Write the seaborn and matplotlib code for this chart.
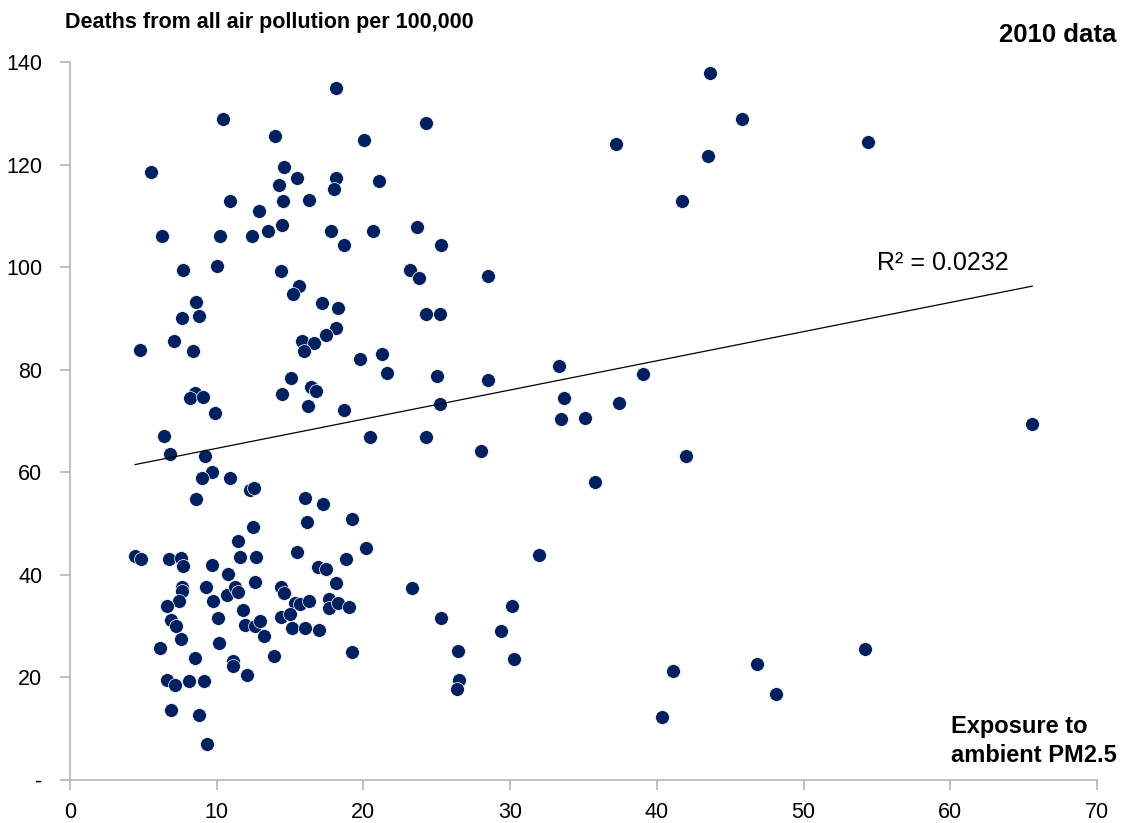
import matplotlib
matplotlib.use("Agg")
import matplotlib.pyplot as plt
import seaborn as sns
import pandas as pd

# Exposure to ambient PM2.5 (x) and deaths per 100,000 (y)
pm25 = [
    18.15, 10.43, 13.95, 24.24, 20.06, 5.52, 14.6, 15.46, 18.1, 18.0,
    21.06, 14.27, 10.93, 14.5, 16.3, 12.86, 6.25, 10.25, 12.43, 13.5,
    14.45, 17.8, 18.66, 20.67, 23.63, 25.27, 7.73, 10.0, 14.4, 23.15,
    23.8, 28.5, 15.6, 15.2, 17.2, 18.29, 8.57, 7.61, 8.77, 24.3,
    25.25, 18.1, 17.45, 15.8, 16.6, 15.93, 7.1, 4.8, 8.4, 19.8,
    21.3, 21.6, 25.0, 28.47, 15.04, 16.45, 16.75, 14.43, 16.25, 18.7,
    8.54, 8.2, 9.09, 9.88, 25.25, 20.47, 24.25, 28.0, 6.41, 6.84,
    9.22, 9.68, 9.0, 10.9, 12.3, 12.56, 8.57, 16.04, 17.25, 16.13,
    19.2, 12.5,
    43.64, 45.8, 37.2, 43.5, 54.4, 41.7, 33.35, 39.05, 33.7, 37.4,
    33.46, 35.1, 65.6, 41.96, 35.8,
    4.43, 4.84, 6.73, 7.6, 7.68, 9.68, 10.8, 11.45, 11.57, 12.66,
    15.5, 16.9, 17.47, 18.84, 18.1, 9.3, 7.61, 7.61, 7.45, 6.61,
    9.75, 10.72, 11.27, 11.47, 12.63, 11.8, 10.06, 6.9, 7.2, 7.55,
    6.11, 10.18, 11.93, 12.6, 12.93, 13.2, 8.52, 11.1, 11.1, 13.88,
    12.04, 6.59, 7.18, 8.1, 9.13, 6.9, 8.77, 9.34, 14.38, 14.56,
    15.34, 15.68, 16.27, 14.36, 15.0, 15.15, 16.04, 16.95, 17.68, 17.68,
    18.3, 19.0, 19.25, 20.2, 23.3, 31.97, 25.26, 30.15, 29.35, 30.27,
    26.43, 26.5, 26.36, 41.1, 40.35, 46.8, 48.1, 54.2,
]
deaths = [
    134.9, 128.8, 125.6, 128.1, 124.8, 118.5, 119.5, 117.4, 117.3, 115.3,
    116.8, 116.0, 112.9, 112.8, 113.1, 111.0, 106.0, 106.0, 106.1, 107.1,
    108.2, 107.1, 104.3, 107.1, 107.9, 104.4, 99.5, 100.2, 99.2, 99.5,
    97.8, 98.2, 96.4, 94.8, 93.1, 92.1, 93.2, 90.1, 90.5, 90.8,
    90.8, 88.2, 86.8, 85.6, 85.2, 83.6, 85.6, 83.8, 83.6, 82.1,
    83.0, 79.3, 78.7, 77.9, 78.4, 76.7, 75.9, 75.2, 73.0, 72.1,
    75.5, 74.5, 74.6, 71.6, 73.4, 66.9, 66.9, 64.1, 67.1, 63.5,
    63.1, 60.0, 58.8, 58.8, 56.6, 57.0, 54.7, 54.9, 53.8, 50.3,
    50.9, 49.3,
    137.9, 128.8, 124.1, 121.6, 124.3, 112.9, 80.7, 79.1, 74.5, 73.6,
    70.4, 70.6, 69.4, 63.2, 58.1,
    43.7, 43.0, 43.1, 43.2, 41.7, 41.9, 40.1, 46.7, 43.5, 43.4,
    44.4, 41.6, 41.1, 43.1, 38.5, 37.6, 37.6, 36.8, 34.9, 34.0,
    34.9, 36.0, 37.6, 36.6, 38.7, 33.2, 31.5, 31.3, 30.0, 27.5,
    25.7, 26.7, 30.3, 30.0, 31.0, 28.1, 23.7, 23.2, 22.3, 24.2,
    20.5, 19.6, 18.5, 19.3, 19.3, 13.6, 12.7, 7.1, 37.6, 36.5,
    34.6, 34.4, 34.9, 31.8, 32.3, 29.7, 29.7, 29.2, 35.2, 33.6,
    34.6, 33.8, 25.0, 45.2, 37.4, 43.8, 31.5, 33.9, 29.0, 23.6,
    25.2, 19.5, 17.8, 21.2, 12.2, 22.7, 16.8, 25.5,
]
# linear trendline as drawn on the chart (end points)
trend_x = [4.43, 65.6]
trend_y = [61.5, 96.3]

x_ticks = [0, 10, 20, 30, 40, 50, 60, 70]
y_ticks = [0, 20, 40, 60, 80, 100, 120, 140]
y_tick_labels = ["-", "20", "40", "60", "80", "100", "120", "140"]

df = pd.DataFrame({"pm25": pm25, "deaths": deaths})
trend = pd.DataFrame({"pm25": trend_x, "deaths": trend_y})

sns.set_theme(style="white")
plt.rcParams["font.family"] = ["Liberation Sans", "DejaVu Sans"]
plt.rcParams["text.color"] = "black"

fig = plt.figure(figsize=(11.23, 8.23), dpi=100)
ax = fig.add_axes([0.0623, 0.0522, 0.9145, 0.8725])

sns.scatterplot(data=df, x="pm25", y="deaths", ax=ax, s=100,
                color="#002060", edgecolor="white", linewidth=0.5,
                zorder=3)
sns.lineplot(data=trend, x="pm25", y="deaths", ax=ax, color="black",
             linewidth=0.9, zorder=4)

ax.set_xlim(0, 70)
ax.set_ylim(0, 140)
ax.set_xticks(x_ticks)
ax.set_yticks(y_ticks)
ax.set_yticklabels(y_tick_labels)
ax.set_xlabel("")
ax.set_ylabel("")

for side in ["top", "right"]:
    ax.spines[side].set_visible(False)
for side in ["left", "bottom"]:
    ax.spines[side].set_color("#B4B4B4")
    ax.spines[side].set_linewidth(1.2)
ax.tick_params(axis="both", which="major", direction="out", length=7,
               width=1.2, color="#B4B4B4", labelsize=15.5,
               labelcolor="black", left=True, bottom=True)
ax.tick_params(axis="y", pad=13)
ax.tick_params(axis="x", pad=9)

ax.text(55.0, 99.4, "R² = 0.0232", fontsize=18, ha="left",
        va="baseline", color="black")

fig.text(0.058, 0.973, "Deaths from all air pollution per 100,000",
         fontsize=15.5, fontweight="bold", ha="left", va="center",
         color="black")
fig.text(0.994, 0.957, "2010 data", fontsize=18.5, fontweight="bold",
         ha="right", va="center", color="black")
ax.text(60.05, 9.2, "Exposure to", fontsize=17, fontweight="bold",
        ha="left", va="baseline", color="black")
ax.text(60.05, 3.5, "ambient PM2.5", fontsize=17, fontweight="bold",
        ha="left", va="baseline", color="black")

fig.savefig("out.png", dpi=100)
